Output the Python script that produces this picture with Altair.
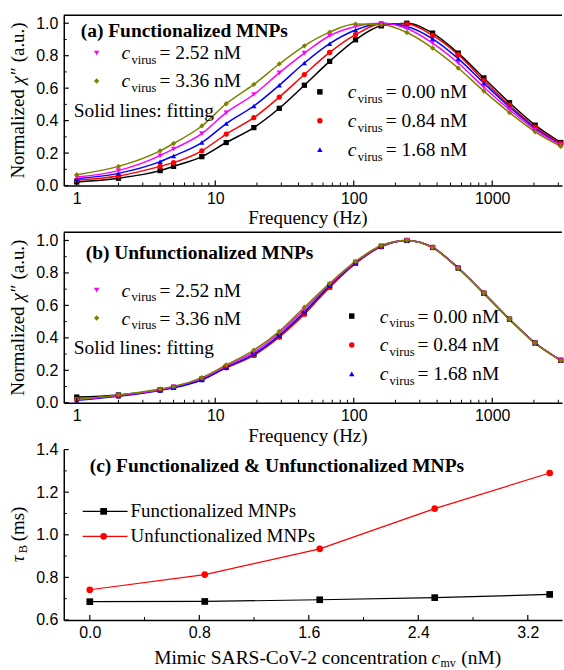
import altair as alt
import pandas as pd

# ---------------- data ----------------
freq = [1, 2, 4, 5, 8, 12, 19, 29, 44, 67, 103, 158, 242, 371, 568, 870, 1333, 2041, 3125]
series_names = ["0.00", "0.84", "1.68", "2.52", "3.36"]
series_colors = ["#000000", "#ff0000", "#0000ff", "#ff00ff", "#808000"]
series_shapes = ["square", "circle", "triangle-up", "triangle-down", "diamond"]

# panel (a) functionalized MNPs
a_000 = [0.022, 0.045, 0.092, 0.118, 0.178, 0.265, 0.357, 0.476, 0.618, 0.765, 0.898, 0.984, 1.0, 0.939, 0.816, 0.663, 0.51, 0.372, 0.265]
a_084 = [0.033, 0.059, 0.118, 0.141, 0.214, 0.317, 0.418, 0.545, 0.684, 0.82, 0.93, 0.995, 0.995, 0.925, 0.806, 0.647, 0.495, 0.361, 0.259]
a_168 = [0.042, 0.075, 0.147, 0.182, 0.265, 0.382, 0.49, 0.618, 0.755, 0.874, 0.958, 1.0, 0.98, 0.904, 0.782, 0.631, 0.484, 0.353, 0.253]
a_252 = [0.052, 0.092, 0.184, 0.225, 0.32, 0.449, 0.561, 0.694, 0.816, 0.923, 0.98, 1.0, 0.968, 0.878, 0.755, 0.606, 0.468, 0.343, 0.249]
a_336 = [0.067, 0.118, 0.214, 0.259, 0.367, 0.504, 0.623, 0.749, 0.861, 0.945, 0.995, 0.992, 0.943, 0.847, 0.724, 0.582, 0.449, 0.331, 0.241]

# panel (b) unfunctionalized MNPs
b_000 = [0.035, 0.048, 0.08, 0.095, 0.145, 0.218, 0.295, 0.408, 0.55, 0.714, 0.86, 0.963, 1.0, 0.957, 0.83, 0.675, 0.515, 0.368, 0.262]
b_084 = [0.02, 0.043, 0.078, 0.095, 0.145, 0.215, 0.292, 0.405, 0.546, 0.712, 0.859, 0.962, 1.0, 0.957, 0.83, 0.675, 0.515, 0.368, 0.262]
b_168 = [0.015, 0.04, 0.076, 0.092, 0.14, 0.218, 0.3, 0.415, 0.56, 0.722, 0.864, 0.965, 1.0, 0.957, 0.83, 0.675, 0.515, 0.368, 0.262]
b_252 = [0.02, 0.045, 0.08, 0.098, 0.15, 0.226, 0.312, 0.428, 0.575, 0.73, 0.868, 0.967, 1.0, 0.956, 0.829, 0.674, 0.514, 0.367, 0.261]
b_336 = [0.022, 0.047, 0.085, 0.1, 0.155, 0.233, 0.325, 0.44, 0.589, 0.736, 0.871, 0.969, 1.0, 0.955, 0.828, 0.673, 0.513, 0.366, 0.26]

# panel (c) Brownian relaxation time
conc = [0.0, 0.84, 1.68, 2.52, 3.36]
tau_func = [0.686, 0.687, 0.695, 0.705, 0.72]
tau_unfunc = [0.742, 0.813, 0.934, 1.123, 1.29]

# ---------------- style ----------------
SERIF = "Liberation Serif"
SANS = "Liberation Sans"
W = 500
H = 171
one = pd.DataFrame({"k": [0]})

AX = dict(labelFont=SANS, labelFontSize=16, labelColor="black", labelOverlap=False, labelFlush=False,
          ticks=False, grid=False, domainColor="black", domainWidth=1.5, title="")


def long_df(vals):
    rows = []
    for name, vs in zip(series_names, vals):
        for f, v in zip(freq, vs):
            rows.append({"f": f, "v": v, "s": name})
    return pd.DataFrame(rows)


def txt(x, y, text, size=19.5, font=SERIF, weight="normal", style="normal",
        align="left", baseline="middle", angle=0):
    kw = dict(text=text, font=font, fontSize=size, fontWeight=weight, fontStyle=style,
              align=align, baseline=baseline, color="black")
    if angle:
        kw["angle"] = angle
    return alt.Chart(one).mark_text(**kw).encode(x=alt.value(x), y=alt.value(y))


def conc_label(sx, sy, tx, shape, color, value):
    sym = alt.Chart(one).mark_point(shape=shape, filled=True, size=30, color=color,
                                    opacity=1).encode(x=alt.value(sx), y=alt.value(sy))
    return [
        sym,
        txt(tx, sy + 6.5, "c", style="italic", baseline="alphabetic"),
        txt(tx + 10, sy + 11, "virus", size=12.5, baseline="alphabetic"),
        txt(tx + 38, sy + 6.5, "= " + value + " nM", baseline="alphabetic"),
    ]


def inner_ticks(xf, yf, xs, ys, xax, yax, xmaj, xmin, ymaj, ymin):
    out = []
    for vals, ln, sw in ((xmaj, 5, 1.2), (xmin, 3, 1.0)):
        out.append(alt.Chart(pd.DataFrame({xf: vals})).mark_rule(color="black", strokeWidth=sw).encode(
            x=alt.X(xf + ":Q", scale=xs, axis=xax), y=alt.value(H), y2=alt.value(H - ln)))
    for vals, ln, sw in ((ymaj, 5, 1.2), (ymin, 3, 1.0)):
        out.append(alt.Chart(pd.DataFrame({yf: vals})).mark_rule(color="black", strokeWidth=sw).encode(
            y=alt.Y(yf + ":Q", scale=ys, axis=yax), x=alt.value(0), x2=alt.value(ln)))
    return out


log_major = [1, 10, 100, 1000]
log_minor = [m * d for d in (1, 10, 100) for m in range(2, 10)] + [2000, 3000]
lin_major = [0.0, 0.2, 0.4, 0.6, 0.8, 1.0]
lin_minor = [0.1, 0.3, 0.5, 0.7, 0.9]


def freq_panel(vals, title, ly, rx, ry):
    df = long_df(vals)
    xs = alt.Scale(type="log", domain=[0.806, 3190], nice=False)
    ys = alt.Scale(domain=[0, 1.05], nice=False, zero=False)
    xax = alt.Axis(values=log_major, format="d", labelPadding=5, **AX)
    yax = alt.Axis(values=lin_major, format=".1f", labelPadding=6, minExtent=30, maxExtent=30, **AX)
    col = alt.Color("s:N", scale=alt.Scale(domain=series_names, range=series_colors), legend=None)
    shp = alt.Shape("s:N", scale=alt.Scale(domain=series_names, range=series_shapes), legend=None)
    lines = alt.Chart(df).mark_line(strokeWidth=1.5, interpolate="monotone", clip=True).encode(
        x=alt.X("f:Q", scale=xs, axis=xax), y=alt.Y("v:Q", scale=ys, axis=yax),
        color=col, detail="s:N")
    pts = alt.Chart(df).mark_point(filled=True, size=28, opacity=1).encode(
        x=alt.X("f:Q", scale=xs, axis=xax), y=alt.Y("v:Q", scale=ys, axis=yax),
        color=col, shape=shp)
    border = alt.Chart(one).mark_rule(color="black", strokeWidth=1.5).encode(
        x=alt.value(0), x2=alt.value(W), y=alt.value(0))
    layers = [lines, pts, border]
    layers += inner_ticks("f", "v", xs, ys, xax, yax, log_major, log_minor, lin_major, lin_minor)
    # axis titles
    layers.append(txt(245, H + 33, "Frequency (Hz)", size=19, align="center"))
    layers.append(txt(-46, 164, "Normalized", size=19, angle=270))
    layers.append(txt(-46, 69.5, "χ", size=19, style="italic", angle=270))
    layers.append(txt(-46, 60, "″ (a.u.)", size=19, angle=270))
    # annotations
    layers.append(txt(title[1], title[2], title[0], weight="bold"))
    layers += conc_label(33, ly, 58, series_shapes[3], series_colors[3], "2.52")
    layers += conc_label(33, ly + 28, 58, series_shapes[4], series_colors[4], "3.36")
    layers.append(txt(10, ly + 58, "Solid lines: fitting"))
    for i in range(3):
        layers += conc_label(rx, ry + 29 * i, rx + 28, series_shapes[i], series_colors[i], series_names[i])
    return alt.layer(*layers).properties(width=W, height=H)


panel_a = freq_panel([a_000, a_084, a_168, a_252, a_336],
                     ("(a) Functionalized MNPs", 17, 16), 38, 257, 77)
panel_b = freq_panel([b_000, b_084, b_168, b_252, b_336],
                     ("(b) Unfunctionalized MNPs", 22, 21), 58, 289, 84)

# ---------------- panel (c) ----------------
dfc = pd.DataFrame({
    "x": conc * 2,
    "t": tau_func + tau_unfunc,
    "s": ["Functionalized MNPs"] * len(conc) + ["Unfunctionalized MNPs"] * len(conc),
})
xs_c = alt.Scale(domain=[-0.19, 3.45], nice=False, zero=False)
ys_c = alt.Scale(domain=[0.6, 1.4], nice=False, zero=False)
xax_c = alt.Axis(values=[0.0, 0.8, 1.6, 2.4, 3.2], format=".1f", labelPadding=5, **AX)
yax_c = alt.Axis(values=[0.6, 0.8, 1.0, 1.2, 1.4], format=".1f", labelPadding=6,
                 minExtent=30, maxExtent=30, **AX)
col_c = alt.Color("s:N", scale=alt.Scale(domain=["Functionalized MNPs", "Unfunctionalized MNPs"],
                                         range=["#000000", "#ff0000"]), legend=None)
shp_c = alt.Shape("s:N", scale=alt.Scale(domain=["Functionalized MNPs", "Unfunctionalized MNPs"],
                                         range=["square", "circle"]), legend=None)
lines_c = alt.Chart(dfc).mark_line(strokeWidth=1.2).encode(
    x=alt.X("x:Q", scale=xs_c, axis=xax_c), y=alt.Y("t:Q", scale=ys_c, axis=yax_c),
    color=col_c, detail="s:N")
pts_c = alt.Chart(dfc).mark_point(filled=True, size=45, opacity=1).encode(
    x=alt.X("x:Q", scale=xs_c, axis=xax_c), y=alt.Y("t:Q", scale=ys_c, axis=yax_c),
    color=col_c, shape=shp_c)
layers_c = [lines_c, pts_c]
layers_c += inner_ticks("x", "t", xs_c, ys_c, xax_c, yax_c, [0.0, 0.8, 1.6, 2.4, 3.2], [0.4, 1.2, 2.0, 2.8],
                        [0.6, 0.8, 1.0, 1.2, 1.4], [0.7, 0.9, 1.1, 1.3])
layers_c.append(txt(26, 16, "(c) Functionalized & Unfunctionalized MNPs", weight="bold"))
for i, (nm, clr, shp) in enumerate([("Functionalized MNPs", "#000000", "square"),
                                    ("Unfunctionalized MNPs", "#ff0000", "circle")]):
    yy = 62 + 25 * i
    layers_c.append(alt.Chart(one).mark_rule(color=clr, strokeWidth=1.2).encode(
        x=alt.value(19), x2=alt.value(64), y=alt.value(yy)))
    layers_c.append(alt.Chart(one).mark_point(shape=shp, filled=True, size=45, color=clr, opacity=1).encode(
        x=alt.value(40), y=alt.value(yy)))
    layers_c.append(txt(67, yy, nm, size=19))
# y title  tau_B (ms)
layers_c.append(txt(-46, 113, "τ", size=19, style="italic", angle=270))
layers_c.append(txt(-41, 104, "B", size=12.5, angle=270))
layers_c.append(txt(-46, 92, "(ms)", size=19, angle=270))
# x title
layers_c.append(txt(365, 209, "Mimic SARS-CoV-2 concentration", size=19.5, align="right"))
layers_c.append(txt(369, 209, "c", size=19.5, style="italic"))
layers_c.append(txt(378, 214, "mv", size=12))
layers_c.append(txt(399, 209, "(nM)", size=19.5))
panel_c = alt.layer(*layers_c).properties(width=W, height=H)

chart = alt.vconcat(panel_a, panel_b, panel_c, spacing=47, bounds="flush").properties(
    padding={"left": 9, "top": 13, "right": 0, "bottom": 0}
).configure_view(strokeOpacity=0).configure_axis(
    labelFont=SANS, labelFontSize=16, labelColor="black", domainColor="black"
)

chart.save("out.html", embed_options={"renderer": "svg", "actions": False})
